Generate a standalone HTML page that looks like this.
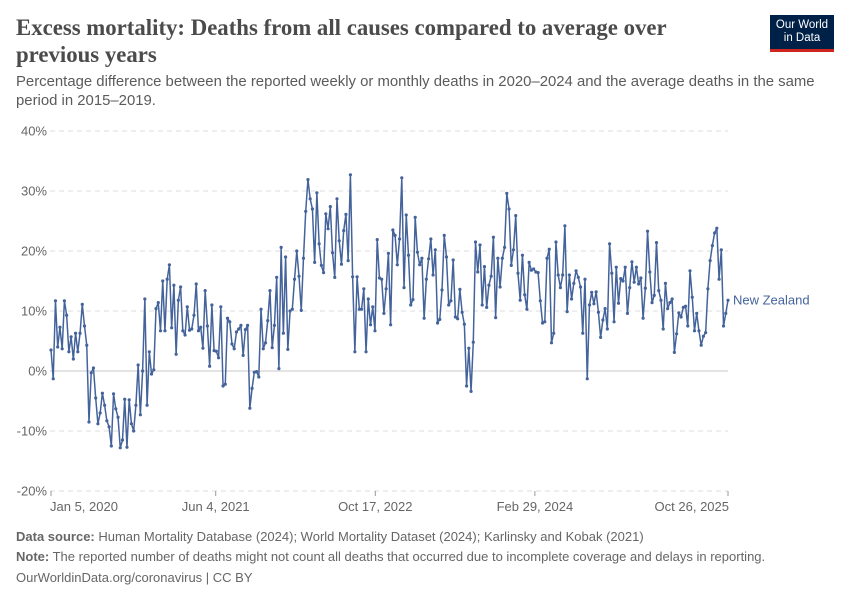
<!DOCTYPE html>
<html><head><meta charset="utf-8"><style>
body{margin:0;background:#fff;font-family:"Liberation Sans",sans-serif;}
#wrap{position:relative;width:850px;height:600px;overflow:hidden}
.t{position:absolute;}
</style></head><body>
<div id="wrap">
<div class="t" style="left:16px;top:14px;width:700px;font-family:'Liberation Serif',serif;font-weight:bold;font-size:22.8px;line-height:27px;color:#4b4b4b">Excess mortality: Deaths from all causes compared to average over previous years</div>
<div class="t" style="left:16px;top:73px;width:810px;font-size:14.9px;line-height:19px;color:#5b5b5b">Percentage difference between the reported weekly or monthly deaths in 2020–2024 and the average deaths in the same period in 2015–2019.</div>
<div class="t" style="left:770px;top:15px;width:64px;height:37px;background:#002147;color:#fff;font-size:11.5px;line-height:13px;text-align:center;padding-top:4px;box-sizing:border-box;border-bottom:3px solid #ce261e">Our World<br>in Data</div>
<svg id="chart" class="t" style="left:0;top:0" width="850" height="600"></svg>
<div class="t" style="left:16px;top:529px;font-size:13px;color:#666"><b>Data source:</b> Human Mortality Database (2024); World Mortality Dataset (2024); Karlinsky and Kobak (2021)</div>
<div class="t" style="left:16px;top:549px;font-size:13px;color:#666"><b>Note:</b> The reported number of deaths might not count all deaths that occurred due to incomplete coverage and delays in reporting.</div>
<div class="t" style="left:16px;top:570px;font-size:13px;color:#666">OurWorldinData.org/coronavirus | CC BY</div>
</div>
<script>
const yTicks=[-20,-10,0,10,20,30,40];
const xTickLabels=["Jan 5, 2020","Jun 4, 2021","Oct 17, 2022","Feb 29, 2024","Oct 26, 2025"];
const xTickDates=["2020-01-05","2021-06-04","2022-10-17","2024-02-29","2025-10-26"];
const seriesName="New Zealand";
const values=[3.5,-1.3,11.7,4,7.3,3.7,11.7,9.3,3.2,5.7,2,6.3,3.2,6.3,11.1,7.5,4.3,-8.5,-0.3,0.5,-4.5,-8.8,-7,-3.7,-5.7,-8.3,-9.3,-12.5,-3.8,-6.3,-7.7,-12.8,-11.5,-4.7,-12.7,-4.8,-8.8,-10,-5.7,1,-7.3,0,12,-5.7,3.2,-0.5,0.2,10.4,11.4,6.7,15,6.7,15.3,17.7,7.2,14.3,2.8,11.8,14,6.7,6,10.7,6.8,7,9.3,14.5,6.7,7.3,3.8,13.4,7.5,0.8,11,3.4,3.3,2.2,
10.7,-2.5,-2.2,8.8,8.2,4.5,3.7,6.5,7,7.6,2.6,6.9,7.6,-6.2,-2.9,-0.2,-0.1,-1,10.3,3.7,4.7,8.4,13.4,3.9,7.6,15.6,0.4,20.6,6.3,19,3.6,10,10.3,15.3,20,15.8,10.1,18.8,26.6,31.9,28.7,27,18.1,29.7,21.2,17.6,16.4,26.2,23.7,27.4,19.7,15.6,28.7,21.7,17.8,23.4,26.1,18.4,32.7,15.7,3.2,15.7,10.3,10.3,13.7,3.2,12,7.7,10.7,6.7,21.9,15.5,15.3,9.6,13.7,19.6,
7.7,23.5,22.6,17.7,22,32.2,13.9,26,19.3,11,11.9,25.6,19.8,17.7,18.8,8.8,15.3,18.7,22,16,20.2,8,8.6,13.5,22.6,19,11,11.7,18.5,9,8.7,13.6,9.8,7.8,-2.5,3.8,-3.4,4.8,21.5,16.5,21,11,17.4,10.6,14.3,15.8,22.3,8.9,18.8,14,18.8,20.6,29.6,27,17.6,20.2,25.9,16.3,11.8,19.3,12.7,10.3,18.1,16.8,17,16.5,16.4,11.7,8,8.2,18.8,20.3,4.7,6.3,21.5,
16,13.9,16,24.2,9.9,16,12,14.6,16.7,15.6,14,6.3,15.3,-1.3,11,13.1,11.2,13.2,9.8,5.6,8.5,10.4,7,21.2,16.3,8.2,17.3,11.3,15.4,15,17.3,9.6,13.9,18.2,14.8,17.3,14.5,15.5,8.8,13.8,23.3,16.5,11.4,12.6,21.4,13.4,11.8,7,14.6,10.4,11.4,12,3.1,6.2,9.7,9,10.6,10.8,7.5,16.7,12.3,6.7,9.6,6.7,4.3,5.8,6.4,13.7,18.4,20.9,23,23.8,15.3,20.2,7.5,9.6,11.8];
const NS="http://www.w3.org/2000/svg";
const svg=document.getElementById('chart');
const X0=51,X1=728,Y0=371,PX=6;
const startT=Date.parse(xTickDates[0]),endT=Date.parse(xTickDates[xTickDates.length-1]);
function xDate(d){return X0+(Date.parse(d)-startT)/(endT-startT)*(X1-X0);}
function xIdx(i){return X0+i/(values.length-1)*(X1-X0);}
function y(v){return Y0-v*PX;}
function mk(tag,attrs){const e=document.createElementNS(NS,tag);for(const k in attrs)e.setAttribute(k,attrs[k]);svg.appendChild(e);return e;}
yTicks.forEach(v=>{
  const l=mk('line',{x1:X0-1,x2:X1,y1:y(v),y2:y(v),stroke:v===0?'#c8c8c8':'#dddddd','stroke-width':1,'stroke-dasharray':v===0?'':'5,4'});
  
  
  const t=mk('text',{x:47,y:y(v)+4.5,'text-anchor':'end','font-size':13,fill:'#666','font-family':'Liberation Sans, sans-serif'});
  t.textContent=v+'%';
  
  
});
xTickDates.forEach((d,i)=>{
  const xx=xDate(d);
  const tk=mk('line',{x1:xx,x2:xx,y1:491,y2:496,stroke:'#999'});
  
  
  const anchor=i===0?'start':(i===xTickDates.length-1?'end':'middle');
  const t=mk('text',{x:i===0?xx-1:(i===xTickDates.length-1?xx+1:xx),y:511,'text-anchor':anchor,'font-size':13,fill:'#666','font-family':'Liberation Sans, sans-serif'});
  t.textContent=xTickLabels[i];
  
  
});
const pts=values.map((v,i)=>xIdx(i).toFixed(2)+','+y(v).toFixed(2)).join(' ');
const pl=mk('polyline',{points:pts,fill:'none',stroke:'#44639b','stroke-width':1.5,'stroke-linejoin':'round'});


values.forEach((v,i)=>{
  const c=mk('circle',{cx:xIdx(i),cy:y(v),r:1.6,fill:'#44639b'});
  
  
});
const lab=mk('text',{x:733,y:y(values[values.length-1])+4.5,'font-size':13,fill:'#44639b','font-family':'Liberation Sans, sans-serif'});
lab.textContent=seriesName;


</script>
</body></html>
